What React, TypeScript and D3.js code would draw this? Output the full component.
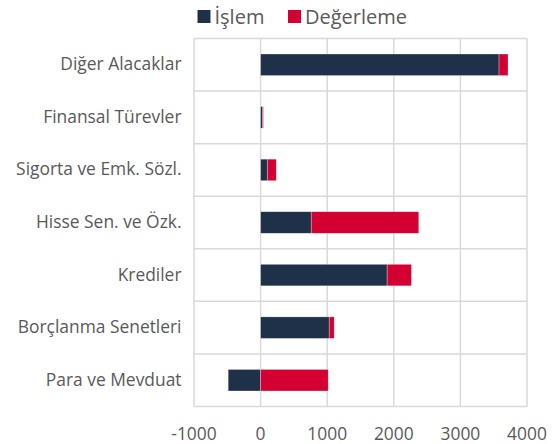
import React from "react";
import * as d3 from "d3";

const categories = [
  "Diğer Alacaklar",
  "Finansal Türevler",
  "Sigorta ve Emk. Sözl.",
  "Hisse Sen. ve Özk.",
  "Krediler",
  "Borçlanma Senetleri",
  "Para ve Mevduat",
];
const islem = [3580, 30, 100, 760, 1900, 1030, -487];
const degerleme = [135, 12, 135, 1615, 365, 75, 1015];
const seriesNames = ["İşlem", "Değerleme"];
const xTicks = [-1000, 0, 1000, 2000, 3000, 4000];

const W = 557;
const H = 444;
const m = { left: 194, right: 30, top: 38.5, bottom: 37.5 };
const colors = ["#1e3148", "#d50032"];
const font = "'Open Sans', sans-serif";
const txt = "#595959";

export default function App() {
  const x = d3.scaleLinear().domain([-1000, 4000]).range([m.left, W - m.right]);
  const y = d3
    .scaleBand()
    .domain(categories)
    .range([m.top, H - m.bottom])
    .paddingInner(0)
    .paddingOuter(0);
  const bh = y.bandwidth() * 0.41;

  const bars: { x0: number; x1: number; y: number; c: string }[] = [];
  categories.forEach((c, i) => {
    const yy = (y(c) as number) + y.bandwidth() / 2 - bh / 2;
    const vals = [islem[i], degerleme[i]];
    let pos = 0;
    let neg = 0;
    vals.forEach((v, k) => {
      let a, b;
      if (v >= 0) {
        a = pos;
        b = pos + v;
        pos = b;
      } else {
        a = neg + v;
        b = neg;
        neg = a;
      }
      bars.push({ x0: x(a), x1: x(b), y: yy, c: colors[k] });
    });
  });

  return (
    <svg width={W} height={H} style={{ position: "absolute", left: 0, top: 0 }}>
      <rect width={W} height={H} fill="#fff" />
      {xTicks.map((t) => (
        <line key={"v" + t} x1={x(t)} x2={x(t)} y1={m.top} y2={H - m.bottom} stroke="#d9d9d9" strokeWidth={1.5} />
      ))}
      {d3.range(categories.length + 1).map((i) => {
        const yy = m.top + i * y.step();
        return <line key={"h" + i} x1={m.left} x2={W - m.right} y1={yy} y2={yy} stroke="#d9d9d9" strokeWidth={1.5} />;
      })}
      {bars.map((b, i) => (
        <rect
          key={i}
          x={b.x0}
          y={b.y}
          width={Math.max(0, b.x1 - b.x0)}
          height={bh}
          fill={b.c}
          stroke="#ffffff"
          strokeOpacity={0.5}
          strokeWidth={0.6}
        />
      ))}
      {categories.map((c) => (
        <text
          key={c}
          x={181.5}
          y={(y(c) as number) + y.bandwidth() / 2 + 5.5}
          textAnchor="end"
          fontFamily={font}
          fontSize={17.4}
          fill={txt}
        >
          {c}
        </text>
      ))}
      {xTicks.map((t) => (
        <text key={"t" + t} x={x(t)} y={440} textAnchor="middle" fontFamily={font} fontSize={17.4} fill={txt}>
          {t}
        </text>
      ))}
      <rect x={197.5} y={10} width={13} height={13} fill={colors[0]} />
      <text x={214.5} y={23.5} fontFamily={font} fontSize={20} fill={txt}>
        {seriesNames[0]}
      </text>
      <rect x={288} y={10} width={13} height={13} fill={colors[1]} />
      <text x={305} y={23.5} fontFamily={font} fontSize={20} fill={txt}>
        {seriesNames[1]}
      </text>
    </svg>
  );
}
